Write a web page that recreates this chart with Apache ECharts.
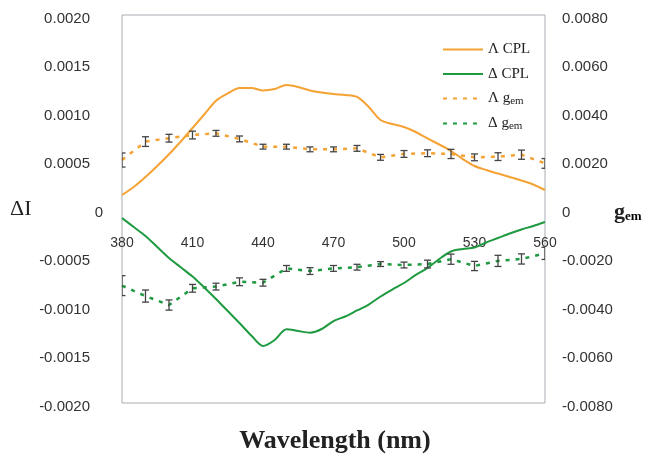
<!DOCTYPE html>
<html><head><meta charset="utf-8">
<script src="https://cdn.jsdelivr.net/npm/echarts@6/dist/echarts.min.js"></script>
<style>html,body{margin:0;padding:0;background:#fff}#c{width:651px;height:456px}</style>
</head><body><div id="c"></div>
<script>
// CPL spectra (left axis, ΔI)
const wlCPL = [380,385,390,395,400,405,410,415,420,425,430,435,440,445,450,455,460,465,470,475,480,485,490,495,500,505,510,515,520,525,530,535,540,545,550,555,560];
const lambdaCPL = [0.000144,0.000227,0.00033,0.000443,0.000564,0.000696,0.000835,0.000974,0.001115,0.001191,0.001247,0.001247,0.001222,0.001237,0.001278,0.001258,0.001222,0.001201,0.001186,0.001175,0.001155,0.001052,0.000918,0.000876,0.000845,0.000794,0.000727,0.000665,0.000598,0.000515,0.000443,0.000402,0.000366,0.00033,0.000294,0.000253,0.000196];
const deltaCPL = [-0.000093,-0.000186,-0.000278,-0.000392,-0.000505,-0.000601,-0.000696,-0.000809,-0.000928,-0.001052,-0.001175,-0.001304,-0.001412,-0.00135,-0.00124,-0.001258,-0.001275,-0.001237,-0.001155,-0.001108,-0.001046,-0.000985,-0.000902,-0.00083,-0.000763,-0.00068,-0.000608,-0.000515,-0.000438,-0.000412,-0.000397,-0.000345,-0.000299,-0.000253,-0.000211,-0.000175,-0.000134];
// g_em (right axis)
const wlG = [380,390,400,410,420,430,440,450,460,470,480,490,500,510,520,530,540,550,560];
const lambdaG = [0.00202,0.00278,0.00292,0.00305,0.00312,0.00289,0.00257,0.00257,0.00246,0.00246,0.0025,0.00213,0.00227,0.0023,0.00227,0.00213,0.00216,0.00224,0.00188];
const lambdaGErr = [0.00029,0.0002,0.00016,0.00016,0.00012,0.00012,0.0001,0.0001,0.0001,0.0001,0.00012,0.00012,0.00014,0.00014,0.00019,0.00014,0.00016,0.00019,0.0002];
const deltaG = [-0.00316,-0.00359,-0.00396,-0.00327,-0.0032,-0.003,-0.00304,-0.00245,-0.00256,-0.00245,-0.0024,-0.00227,-0.00231,-0.00227,-0.00207,-0.00235,-0.00214,-0.00206,-0.00183];
const deltaGErr = [0.00041,0.00025,0.00021,0.00016,0.00014,0.00016,0.00014,0.00012,0.00014,0.00012,0.00012,0.0001,0.00012,0.00016,0.00021,0.00019,0.00023,0.00021,0.00025];
const xTicks = {min:380, max:560, interval:30};
const names = ['Λ CPL','Δ CPL','Λ gem','Δ gem'];

const ORANGE = '#F5A234', GREEN = '#1E9A40';
const SANS = '"Liberation Sans", Arial, sans-serif';
const SERIF = '"Liberation Serif", "Times New Roman", serif';

function fmt(v){ return Math.abs(v) < 1e-12 ? '0' : v.toFixed(4); }
function errSeries(wl, vals, errs){
  return {
    type:'custom', yAxisIndex:1, silent:true, clip:true, z:5,
    data: wl.map((w,i)=>[w, vals[i]-errs[i], vals[i]+errs[i]]),
    encode:{x:0, y:[1,2]},
    renderItem:(params, api)=>{
      const x = api.value(0);
      const lo = api.coord([x, api.value(1)]);
      const hi = api.coord([x, api.value(2)]);
      const hw = 3.5, st = {stroke:'#444', lineWidth:1.3};
      return {type:'group', children:[
        {type:'line', shape:{x1:lo[0],y1:lo[1],x2:hi[0],y2:hi[1]}, style:st},
        {type:'line', shape:{x1:lo[0]-hw,y1:lo[1],x2:lo[0]+hw,y2:lo[1]}, style:st},
        {type:'line', shape:{x1:hi[0]-hw,y1:hi[1],x2:hi[0]+hw,y2:hi[1]}, style:st}
      ]};
    }
  };
}

const chart = echarts.init(document.getElementById('c'), null, {renderer:'canvas'});
chart.setOption({
  animation:false,
  backgroundColor:'#fff',
  grid:{left:122, right:106, top:15, bottom:53, show:true, borderColor:'#a8adb3', borderWidth:1, containLabel:false},
  legend:{
    data: names, orient:'vertical', left:437, top:37, itemWidth:40, itemHeight:14, itemGap:9.5, itemStyle:{opacity:0},
    textStyle:{fontFamily:SERIF, fontSize:15, color:'#222',
      rich:{a:{fontFamily:SERIF, fontSize:15, color:'#222'}, s:{fontFamily:SERIF, fontSize:11, color:'#222', padding:[5,0,0,0]}}},
    formatter: n => n.endsWith('gem') ? '{a|' + n.slice(0, -2) + '}{s|em}' : n
  },
  xAxis:{
    type:'value', min:xTicks.min, max:xTicks.max, interval:xTicks.interval, position:'bottom', offset:-194,
    axisLine:{show:false, onZero:false}, axisTick:{show:false}, splitLine:{show:false},
    axisLabel:{margin:27, fontFamily:SANS, fontSize:14, color:'#333'}
  },
  yAxis:[
    {type:'value', min:-0.002, max:0.002, interval:0.0005, axisLine:{show:false}, axisTick:{show:false}, splitLine:{show:false},
     axisLabel:{margin:19, formatter: v => fmt(v)==='0' ? '{z|0}' : '{n|' + fmt(v) + '}',
       rich:{n:{fontFamily:SANS, fontSize:15, color:'#333', padding:[7,13,0,0]}, z:{fontFamily:SANS, fontSize:15, color:'#333', padding:[7,0,0,0]}}}},
    {type:'value', min:-0.008, max:0.008, interval:0.002, axisLine:{show:false}, axisTick:{show:false}, splitLine:{show:false},
     axisLabel:{margin:17, formatter: v => '{n|' + fmt(v) + '}',
       rich:{n:{fontFamily:SANS, fontSize:15, color:'#333', padding:[7,0,0,0]}}}}
  ],
  series:[
    {name:names[0], type:'line', yAxisIndex:0, data: wlCPL.map((w,i)=>[w, lambdaCPL[i]]), showSymbol:false, symbol:'none', smooth:0.3,
     lineStyle:{color:ORANGE, width:2}, itemStyle:{color:ORANGE}},
    {name:names[1], type:'line', yAxisIndex:0, data: wlCPL.map((w,i)=>[w, deltaCPL[i]]), showSymbol:false, symbol:'none', smooth:0.3,
     lineStyle:{color:GREEN, width:2}, itemStyle:{color:GREEN}},
    {name:names[2], type:'line', yAxisIndex:1, data: wlG.map((w,i)=>[w, lambdaG[i]]), showSymbol:false, symbol:'none',
     lineStyle:{color:ORANGE, width:2.5, type:[4,6]}, itemStyle:{color:ORANGE}},
    {name:names[3], type:'line', yAxisIndex:1, data: wlG.map((w,i)=>[w, deltaG[i]]), showSymbol:false, symbol:'none',
     lineStyle:{color:GREEN, width:2.5, type:[4,6]}, itemStyle:{color:GREEN}},
    errSeries(wlG, lambdaG, lambdaGErr),
    errSeries(wlG, deltaG, deltaGErr)
  ],
  graphic:[
    {type:'text', left:10, top:198, style:{text:'ΔI', font:'22px ' + SERIF, fill:'#222'}},
    {type:'text', left:614, top:201, style:{text:'{g|g}{e|em}', rich:{g:{fontFamily:SERIF, fontWeight:'bold', fontSize:22, fill:'#222', color:'#222'}, e:{fontFamily:SERIF, fontWeight:'bold', fontSize:13, color:'#222', padding:[9,0,0,0]}}}},
    {type:'text', x:335, y:441, style:{text:'Wavelength (nm)', font:'bold 26px ' + SERIF, fill:'#222', textAlign:'center', textVerticalAlign:'middle'}}
  ]
});
</script></body></html>
